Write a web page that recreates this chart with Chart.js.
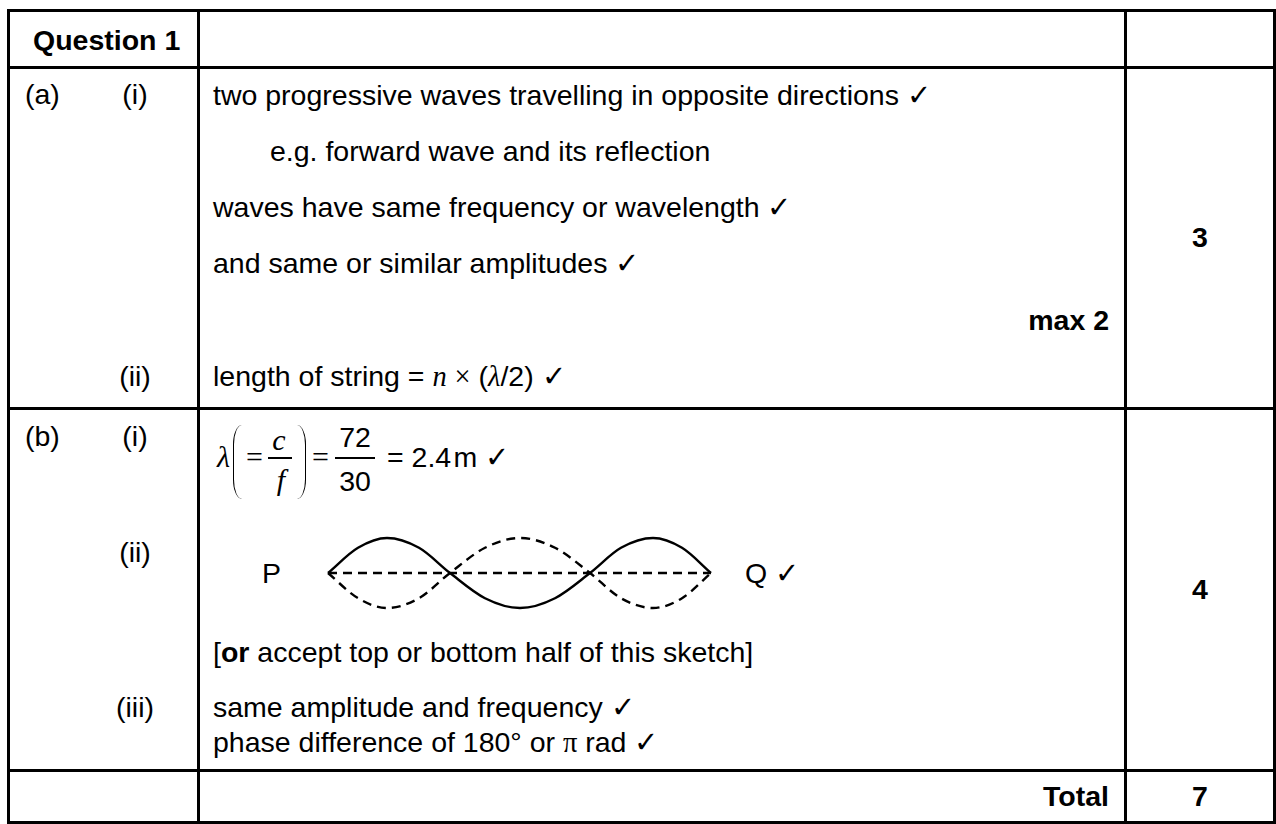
<!DOCTYPE html>
<html>
<head>
<meta charset="utf-8">
<script src="https://cdn.jsdelivr.net/npm/chart.js@4.4.1/dist/chart.umd.min.js"></script>
<style>
  body { margin: 0; background: #fff; }
  #page { position: relative; width: 1276px; height: 824px; overflow: hidden; background: #fff;
          font-family: "Liberation Sans", Arial, sans-serif; color: #000; }
  .ln { position: absolute; background: #000; }
  .tx { position: absolute; white-space: nowrap; font-size: 28.5px; line-height: 28.5px; }
  .b { font-weight: bold; }
  .m { font-family: "Liberation Serif", "Times New Roman", serif; font-style: italic; }
  .s { font-family: "Liberation Serif", "Times New Roman", serif; }
  .bar { position: absolute; background: #000; height: 1.6px; }
  .par { position: absolute; width: 9px; height: 74px; box-sizing: border-box; }
  #sketch { position: absolute; left: 318px; top: 523px; }
</style>
</head>
<body>
<div id="page">
  <canvas id="sketch" width="404" height="100"></canvas>
</div>
<script>
// --- Sketch data (standing wave) ---
// x in px from the P end of the string, y in amplitudes
const sketchX = [0, 30, 59, 91, 122, 157, 192, 227, 262, 293, 325, 354, 383];
const solidY  = [0, 0.72, 1, 0.72, 0, -0.72, -1, -0.72, 0, 0.72, 1, 0.72, 0];
const dashedY = [0, -0.72, -1, -0.72, 0, 0.72, 1, 0.72, 0, -0.72, -1, -0.72, 0];
const axisX = [0, 383];
const axisY = [0, 0];

// --- Table text ---
const FS = 28.5;
const page = document.getElementById('page');

function put(x, base, html, align) {
    const d = document.createElement('div');
    d.className = 'tx';
    d.innerHTML = html;
    d.style.top = (base - 0.8465 * FS) + 'px';
    if (align === 'right') {
        d.style.right = (1276 - x) + 'px';
    } else if (align === 'center') {
        d.style.left = x + 'px';
        d.style.transform = 'translateX(-50%)';
    } else {
        d.style.left = x + 'px';
    }
    page.appendChild(d);
    return d;
}

function hline(y, x1, x2) {
    const d = document.createElement('div');
    d.className = 'ln';
    d.style.cssText = `left:${x1}px;top:${y - 1.5}px;width:${x2 - x1}px;height:3px`;
    page.appendChild(d);
}

function vline(x, y1, y2) {
    const d = document.createElement('div');
    d.className = 'ln';
    d.style.cssText = `left:${x - 1.5}px;top:${y1}px;width:3px;height:${y2 - y1}px`;
    page.appendChild(d);
}

function bar(x1, x2, y) {
    const d = document.createElement('div');
    d.className = 'bar';
    d.style.cssText = `left:${x1}px;width:${x2 - x1}px;top:${y}px`;
    page.appendChild(d);
}

function paren(x, top, side) {
    const d = document.createElement('div');
    d.className = 'par';
    d.style.left = x + 'px';
    d.style.top = top + 'px';
    if (side === 'left') {
        d.style.borderLeft = '1.8px solid #000';
        d.style.borderRadius = '12px 0 0 12px / 26px 0 0 26px';
    } else {
        d.style.borderRight = '1.8px solid #000';
        d.style.borderRadius = '0 12px 12px 0 / 0 26px 26px 0';
    }
    page.appendChild(d);
}

// grid
const rows = [10, 67, 408, 770, 822];
const cols = [8, 198, 1125, 1274];
rows.forEach(y => hline(y, 6.5, 1275.5));
cols.forEach(x => vline(x, 8.5, 823.5));

const TICK = '&#10003;';

// header
put(33, 50, 'Question 1').classList.add('b');

// part (a)
put(25, 104, '(a)');
put(135, 104, '(i)', 'center');
put(213, 105, `two progressive waves travelling in opposite directions ${TICK}`);
put(270, 161, 'e.g. forward wave and its reflection');
put(213, 217, `waves have same frequency or wavelength ${TICK}`);
put(213, 273, `and same or similar amplitudes ${TICK}`);
put(1109, 330, 'max 2', 'right').classList.add('b');
put(135, 386, '(ii)', 'center');
put(213, 386, `length of string = <span class="m">n</span> <span class="s">&times;</span> (<span class="m">&lambda;</span>/2) ${TICK}`);
put(1200, 247, '3', 'center').classList.add('b');

// part (b)
put(25, 446, '(b)');
put(135, 446, '(i)', 'center');
put(217, 467, '<span class="m" style="font-size:30px">&lambda;</span>');
paren(233, 425, 'left');
put(246, 467, '<span class="s" style="font-size:30px">=</span>');
put(279, 450, '<span class="m" style="font-size:30px">c</span>', 'center');
bar(268, 292, 457);
put(281, 490, '<span class="m" style="font-size:30px">f</span>', 'center');
paren(297, 425, 'right');
put(312, 467, '<span class="s" style="font-size:30px">=</span>');
put(355, 447, '72', 'center');
bar(335, 375, 457);
put(355, 491, '30', 'center');
put(387, 467, `= 2.4&#8202;m ${TICK}`);

put(135, 562, '(ii)', 'center');
put(262, 583, 'P');
put(745, 583, `Q ${TICK}`);
put(213, 662, '[<b>or</b> accept top or bottom half of this sketch]');
put(135, 717, '(iii)', 'center');
put(213, 717, `same amplitude and frequency ${TICK}`);
put(213, 752, `phase difference of 180&deg; or <span class="s">&pi;</span> rad ${TICK}`);
put(1200, 599, '4', 'center').classList.add('b');

// total
put(1109, 806, 'Total', 'right').classList.add('b');
put(1200, 806, '7', 'center').classList.add('b');

// --- Standing wave sketch (Chart.js) ---
const toPts = (xs, ys) => xs.map((x, i) => ({ x: x, y: ys[i] }));

const ctx = document.getElementById('sketch').getContext('2d');
new Chart(ctx, {
    type: 'scatter',
    data: {
        datasets: [
            {
                data: toPts(sketchX, solidY),
                showLine: true,
                borderColor: '#000',
                borderWidth: 2.4,
                pointRadius: 0,
                cubicInterpolationMode: 'monotone'
            },
            {
                data: toPts(sketchX, dashedY),
                showLine: true,
                borderColor: '#000',
                borderWidth: 2.4,
                borderDash: [9, 6],
                pointRadius: 0,
                cubicInterpolationMode: 'monotone'
            },
            {
                data: toPts(axisX, axisY),
                showLine: true,
                borderColor: '#000',
                borderWidth: 2.4,
                borderDash: [9, 6],
                pointRadius: 0
            }
        ]
    },
    options: {
        responsive: false,
        animation: false,
        layout: { padding: 0 },
        plugins: { legend: { display: false }, tooltip: { enabled: false } },
        scales: {
            x: { type: 'linear', min: -10, max: 394, display: false },
            y: { min: -1.4286, max: 1.4286, display: false }
        }
    }
});
</script>
</body>
</html>
